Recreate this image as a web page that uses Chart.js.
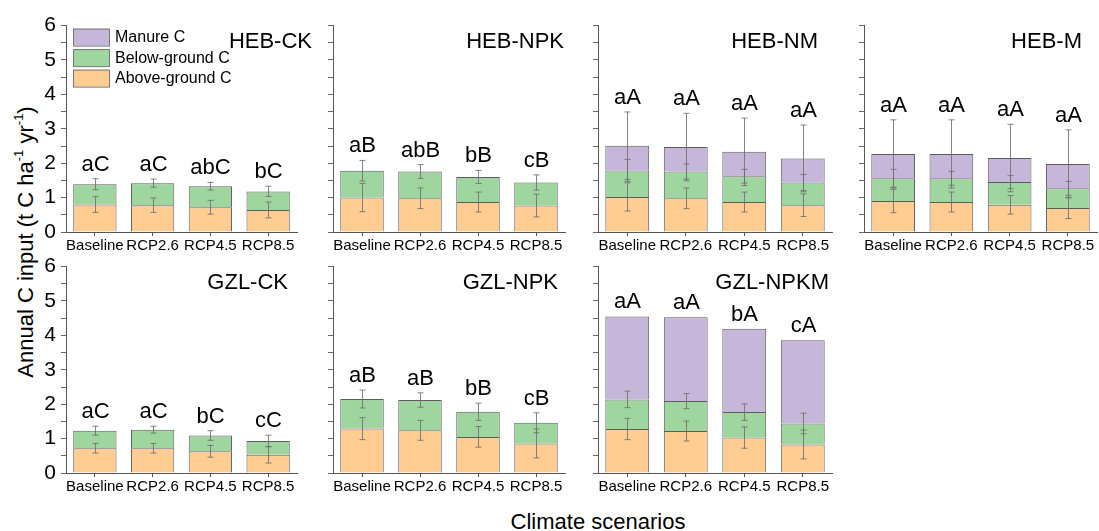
<!DOCTYPE html>
<html>
<head>
<meta charset="utf-8">
<script src="https://cdn.jsdelivr.net/npm/chart.js@4/dist/chart.umd.min.js"></script>
<style>
  body { margin: 0; background: #fff; font-family: 'Liberation Sans', Arial, sans-serif; }
  #wrap { position: relative; width: 1099px; height: 531px; overflow: hidden; }
  .panel { position: absolute; }
  #ytitle { position: absolute; left: 26px; top: 242px; transform: translate(-50%, -50%) rotate(-90deg);
            white-space: nowrap; font-size: 22px; color: #000; }
  #ytitle sup { font-size: 13px; position: relative; top: -2px; }
  #xtitle { position: absolute; left: 598px; top: 522px; transform: translate(-50%, -50%);
            white-space: nowrap; font-size: 22px; color: #000; }
</style>
</head>
<body>
<div id="wrap">
  <div id="ytitle">Annual C input (t C ha<sup>-1</sup> yr<sup>-1</sup>)</div>
  <div id="xtitle">Climate scenarios</div>
</div>
<script>
// Datos
const escenarios = ['Baseline', 'RCP2.6', 'RCP4.5', 'RCP8.5'];
const tratamientos = ['HEB-CK', 'HEB-NPK', 'HEB-NM', 'HEB-M', 'GZL-CK', 'GZL-NPK', 'GZL-NPKM'];
const serieNombres = ['Above-ground C', 'Below-ground C', 'Manure C'];
const yTicks = [0, 1, 2, 3, 4, 5, 6];

const aboveC = [
  [0.80, 0.78, 0.72, 0.64],
  [1.00, 0.98, 0.87, 0.77],
  [1.02, 0.98, 0.87, 0.78],
  [0.90, 0.87, 0.79, 0.70],
  [0.72, 0.72, 0.63, 0.53],
  [1.29, 1.24, 1.05, 0.86],
  [1.28, 1.22, 1.03, 0.83]
];
const belowC = [
  [0.59, 0.64, 0.61, 0.54],
  [0.78, 0.78, 0.73, 0.67],
  [0.77, 0.78, 0.75, 0.66],
  [0.66, 0.69, 0.66, 0.57],
  [0.51, 0.54, 0.46, 0.40],
  [0.86, 0.88, 0.73, 0.60],
  [0.86, 0.87, 0.74, 0.61]
];
const manureC = [
  [0, 0, 0, 0],
  [0, 0, 0, 0],
  [0.72, 0.71, 0.71, 0.70],
  [0.71, 0.71, 0.70, 0.71],
  [0, 0, 0, 0],
  [0, 0, 0, 0],
  [2.41, 2.44, 2.42, 2.42]
];

// Barras de error (desviacion)
const errAbove = [
  [0.23, 0.21, 0.20, 0.23],
  [0.41, 0.30, 0.29, 0.33],
  [0.41, 0.30, 0.29, 0.33],
  [0.34, 0.29, 0.27, 0.31],
  [0.14, 0.14, 0.17, 0.24],
  [0.32, 0.29, 0.30, 0.42],
  [0.31, 0.29, 0.31, 0.42]
];
const errBelow = [
  [0.16, 0.12, 0.11, 0.15],
  [0.30, 0.20, 0.19, 0.22],
  [0.32, 0.22, 0.20, 0.23],
  [0.26, 0.20, 0.19, 0.20],
  [0.13, 0.10, 0.14, 0.17],
  [0.26, 0.21, 0.25, 0.29],
  [0.24, 0.22, 0.24, 0.30]
];
const errManure = [
  [0, 0, 0, 0],
  [0, 0, 0, 0],
  [0.98, 0.98, 0.98, 0.97],
  [0.99, 0.99, 0.98, 0.99],
  [0, 0, 0, 0],
  [0, 0, 0, 0],
  [0, 0, 0, 0]
];

const letras = [
  ['aC', 'aC', 'abC', 'bC'],
  ['aB', 'abB', 'bB', 'cB'],
  ['aA', 'aA', 'aA', 'aA'],
  ['aA', 'aA', 'aA', 'aA'],
  ['aC', 'aC', 'bC', 'cC'],
  ['aB', 'aB', 'bB', 'cB'],
  ['aA', 'aA', 'bA', 'cA']
];

// Layout de paneles (area del grafico)
const colL = [66, 333, 598, 864];
const colW = [231, 232, 234, 233];
const rowT = [23, 264];
const plotH = 209;
const padL = 60, padT = 15, padR = 25, padB = 32;
const titleShift = [16, 0, -13, -14, -8, -6, -2];

const colores = ['#ffcc92', '#9fd69f', '#c6b6da'];
const borde = '#5c5c5c';
const fuente = "'Liberation Sans', Arial, sans-serif";

const extras = {
  id: 'extras',
  afterDatasetsDraw(chart, args, opts) {
    const ctx = chart.ctx;
    const y = chart.scales.y;
    const x = chart.scales.x;
    const p = opts.idx;
    ctx.save();
    // barras de error
    ctx.strokeStyle = 'rgba(110,110,110,0.85)';
    ctx.lineWidth = 1;
    escenarios.forEach((e, i) => {
      const cx = Math.round(x.getPixelForValue(i)) + 0.5;
      const niveles = [
        [aboveC[p][i], errAbove[p][i]],
        [aboveC[p][i] + belowC[p][i], errBelow[p][i]],
        [aboveC[p][i] + belowC[p][i] + manureC[p][i], errManure[p][i]]
      ];
      let tope = aboveC[p][i] + belowC[p][i] + manureC[p][i];
      niveles.forEach(n => {
        if (!n[1]) return;
        const y1 = y.getPixelForValue(n[0] + n[1]);
        const y2 = y.getPixelForValue(n[0] - n[1]);
        ctx.beginPath();
        ctx.moveTo(cx, y1); ctx.lineTo(cx, y2);
        ctx.moveTo(cx - 3, y1); ctx.lineTo(cx + 3, y1);
        ctx.moveTo(cx - 3, y2); ctx.lineTo(cx + 3, y2);
        ctx.stroke();
        tope = Math.max(tope, n[0] + n[1]);
      });
      // letras de significancia
      ctx.fillStyle = '#000';
      ctx.font = '22px ' + fuente;
      ctx.textAlign = 'center';
      ctx.textBaseline = 'alphabetic';
      ctx.fillText(letras[p][i], cx, y.getPixelForValue(tope) - 8);
    });
    // titulo del panel
    const a = chart.chartArea;
    ctx.font = '22px ' + fuente;
    ctx.textAlign = 'right';
    ctx.textBaseline = 'middle';
    ctx.fillText(tratamientos[p], a.right - 1 + titleShift[p], a.top + 16);
    // leyenda
    if (p === 0) {
      const orden = [2, 1, 0];
      ctx.font = '16px ' + fuente;
      ctx.textAlign = 'left';
      orden.forEach((s, k) => {
        const by = a.top + 3 + k * 20.5;
        ctx.fillStyle = colores[s];
        ctx.fillRect(a.left + 7, by, 36, 17);
        ctx.strokeStyle = '#777';
        ctx.strokeRect(a.left + 7.5, by + 0.5, 36, 17);
        ctx.fillStyle = '#000';
        ctx.fillText(chart.data.datasets[s].label, a.left + 49, by + 9);
      });
    }
    ctx.restore();
  }
};

const wrap = document.getElementById('wrap');
tratamientos.forEach((nombre, p) => {
  const col = p % 4, row = Math.floor(p / 4);
  const div = document.createElement('div');
  div.className = 'panel';
  const w = colW[col] + padL + padR, h = plotH + padT + padB;
  div.style.left = (colL[col] - padL) + 'px';
  div.style.top = (rowT[row] - padT) + 'px';
  div.style.width = w + 'px';
  div.style.height = h + 'px';
  const cv = document.createElement('canvas');
  cv.width = w; cv.height = h;
  div.appendChild(cv);
  wrap.appendChild(div);

  const series = [aboveC[p], belowC[p], manureC[p]];
  new Chart(cv.getContext('2d'), {
    type: 'bar',
    data: {
      labels: escenarios,
      datasets: series.map((d, s) => ({
        label: serieNombres[s],
        data: d,
        backgroundColor: colores[s],
        borderColor: borde,
        borderWidth: 1,
        borderSkipped: 'bottom',
        categoryPercentage: 1,
        barPercentage: 0.75
      }))
    },
    options: {
      responsive: false,
      animation: false,
      devicePixelRatio: 1,
      layout: { padding: { top: padT, right: padR, left: 0, bottom: 0 } },
      plugins: {
        legend: { display: false },
        tooltip: { enabled: false },
        extras: { idx: p }
      },
      scales: {
        x: {
          stacked: true,
          offset: true,
          grid: { display: true, offset: false, drawOnChartArea: false, tickLength: 4, color: '#555' },
          border: { display: true, color: '#555', width: 1 },
          ticks: { color: '#000', font: { family: fuente, size: 15 }, padding: 1, maxRotation: 0, autoSkip: false },
          afterFit: s => { s.height = padB; }
        },
        y: {
          stacked: true,
          min: 0,
          max: 6,
          grid: { display: true, drawOnChartArea: false, tickLength: 5, color: '#666' },
          border: { display: true, color: '#555', width: 1 },
          ticks: {
            stepSize: 0.5,
            autoSkip: false,
            color: '#000',
            padding: 5,
            font: { family: fuente, size: 21 },
            callback: v => (col === 0 && yTicks.includes(v)) ? String(v) : ''
          },
          afterFit: s => { s.width = padL; }
        }
      }
    },
    plugins: [extras]
  });
});
</script>
</body>
</html>
